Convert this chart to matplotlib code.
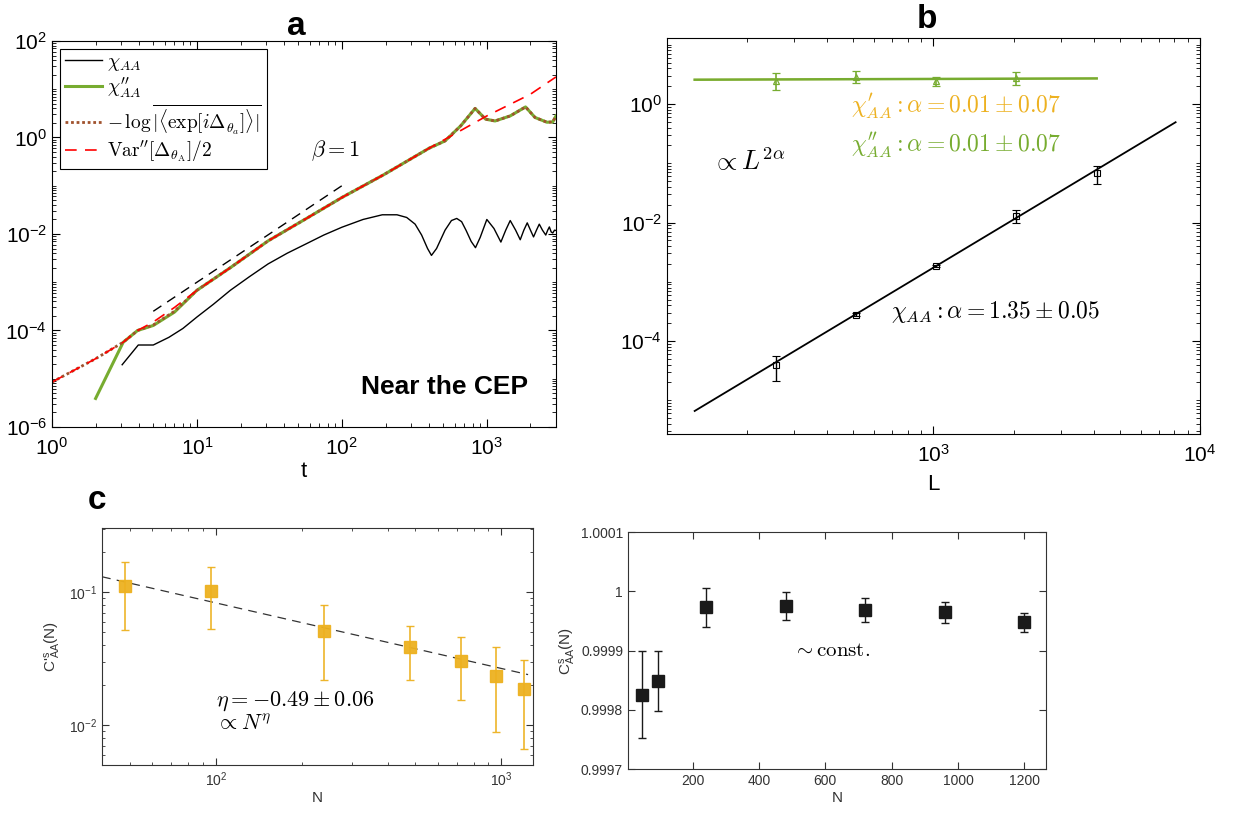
import numpy as np
import matplotlib
matplotlib.use("Agg")
import matplotlib.pyplot as plt
from matplotlib.ticker import LogLocator, NullFormatter, FixedLocator

plt.rcParams["font.family"] = ["Liberation Sans", "DejaVu Sans"]
plt.rcParams["mathtext.fontset"] = "custom"
plt.rcParams["mathtext.rm"] = "Liberation Sans"
plt.rcParams["mathtext.it"] = "Liberation Sans:italic"
plt.rcParams["mathtext.bf"] = "Liberation Sans:bold"
plt.rcParams["mathtext.sf"] = "Liberation Sans"
plt.rcParams["xtick.direction"] = "in"
plt.rcParams["ytick.direction"] = "in"

# ---------------- panel a: time series ----------------
t_var = [1, 2, 3.1, 3.9, 5, 7, 10, 17, 31, 57, 100, 195, 400, 1000, 2000, 3000]
var_half = [8.5e-6, 2.6e-5, 5.7e-5, 1.0e-4, 1.5e-4, 3.0e-4, 6.8e-4, 2.0e-3, 7.2e-3, 0.021,
            0.057, 0.17, 0.6, 2.8, 7.9, 18]

t_chi2 = [2, 3.1, 3.9, 5, 7, 10, 17, 31, 57, 100, 195, 400, 515, 660, 830, 980, 1140,
          1450, 1850, 2150, 2600, 2850, 3000]
chi2 = [3.9e-6, 5.7e-5, 1.0e-4, 1.27e-4, 2.4e-4, 6.8e-4, 2.0e-3, 7.2e-3, 0.021, 0.057,
        0.17, 0.6, 0.85, 1.74, 4.0, 2.4, 2.2, 2.8, 4.3, 2.6, 2.07, 2.1, 2.8]

t_log = [1, 2, 3.1, 3.9, 5, 7, 10, 17, 31, 57, 100, 195, 400, 515, 660, 830, 980, 1140,
         1450, 1850, 2150, 2600, 2850, 3000]
neg_log = [8.5e-6, 2.6e-5, 5.7e-5, 1.0e-4, 1.3e-4, 2.5e-4, 6.8e-4, 2.0e-3, 7.2e-3, 0.021,
           0.057, 0.17, 0.6, 0.85, 1.74, 4.0, 2.4, 2.2, 2.8, 4.3, 2.6, 2.07, 2.1, 2.8]

t_chi = [3.05, 3.94, 5.0, 6.4, 8, 10, 13, 17, 23, 31, 42, 57, 75, 100, 140, 190, 240, 280,
         320, 355, 390, 415, 450, 515, 570, 620, 670, 720, 780, 835, 900, 1000, 1120, 1250,
         1350, 1450, 1580, 1700, 1800, 1900, 2000, 2100, 2200, 2300, 2420, 2550, 2630, 2700,
         2780, 2850, 2930, 3000]
chi = [1.95e-5, 5e-5, 5e-5, 7.2e-5, 1.1e-4, 1.9e-4, 3.5e-4, 6.8e-4, 1.3e-3, 2.4e-3, 4.0e-3,
       6.3e-3, 9.5e-3, 0.0138, 0.02, 0.025, 0.025, 0.022, 0.016, 0.0095, 5e-3, 3.6e-3, 5e-3,
       0.012, 0.019, 0.021, 0.018, 0.0118, 7e-3, 5.2e-3, 8.5e-3, 0.020, 0.013, 6.8e-3, 0.012,
       0.019, 0.012, 7.6e-3, 0.012, 0.017, 0.012, 8.7e-3, 0.012, 0.016, 0.012, 9.5e-3, 0.012,
       0.014, 0.011, 0.0105, 0.012, 0.0118]

t_guide = [5, 100]
guide = [2.5e-4, 0.1]

# ---------------- panel b: scaling with L ----------------
L = [256, 512, 1024, 2048, 4096]
chi_L = [3.9e-5, 2.8e-4, 1.85e-3, 0.013, 0.0686]
chi_L_lo = [2.1e-5, 2.6e-4, 1.75e-3, 0.0098, 0.044]
chi_L_hi = [5.6e-5, 3.0e-4, 1.95e-3, 0.0162, 0.091]
L_fit = [127, 8100]
alpha_chi = 1.35

L2 = [256, 512, 1024, 2048]
chi2_L = [2.47, 2.88, 2.47, 2.74]
chi2_L_lo = [1.74, 2.3, 2.05, 2.1]
chi2_L_hi = [3.3, 3.6, 2.88, 3.4]
L2_fit = [127, 4096]
chi2_fit = [2.57, 2.7]

# ---------------- panel c / d: correlators vs N ----------------
N = [48, 96, 240, 480, 720, 960, 1200]
Cp = [0.111, 0.103, 0.0507, 0.039, 0.0305, 0.0236, 0.0188]
Cp_lo = [0.052, 0.053, 0.022, 0.022, 0.0155, 0.0089, 0.0066]
Cp_hi = [0.17, 0.154, 0.080, 0.056, 0.046, 0.039, 0.031]
N_fit = [40, 1240]
Cp_fit = [0.131, 0.024]

C = [0.999825, 0.999848, 0.999973, 0.999975, 0.999968, 0.999965, 0.999948]
C_lo = [0.999752, 0.999798, 0.999939, 0.999951, 0.999949, 0.999947, 0.999932]
C_hi = [0.9999, 0.9999, 1.0000062, 0.999998, 0.999989, 0.999982, 0.999964]

GREEN = "#77AC30"
ORANGE = "#EDB120"
BROWN = "#A0522D"
GREY = "#333333"

fig = plt.figure(figsize=(12.43, 8.15), dpi=100)
ax_a = fig.add_axes([0.0418, 0.4761, 0.4055, 0.4736])
ax_b = fig.add_axes([0.5366, 0.4675, 0.4288, 0.4859])
ax_c = fig.add_axes([0.0821, 0.0613, 0.3467, 0.2908])
ax_d = fig.add_axes([0.5052, 0.0564, 0.3363, 0.2908])


def log_minor(ax, axis):
    loc = LogLocator(base=10, subs=np.arange(2, 10), numticks=50)
    if axis == "x":
        ax.xaxis.set_minor_locator(loc)
        ax.xaxis.set_minor_formatter(NullFormatter())
    else:
        ax.yaxis.set_minor_locator(loc)
        ax.yaxis.set_minor_formatter(NullFormatter())


# panel a
ax = ax_a
ax.plot(t_chi, chi, color="black", lw=1.0, label=r"$\chi_{AA}$")
ax.plot(t_chi2, chi2, color=GREEN, lw=2.2, label=r"$\chi^{\prime\prime}_{AA}$")
ax.plot(t_log, neg_log, color=BROWN, lw=2.0, ls=(0, (1, 1)),
        label=r"$-\,\log\overline{|\langle\exp[i\Delta_{\theta_a}]\rangle|}$")
ax.plot(t_var, var_half, color="red", lw=1.2, ls=(0, (7, 5)),
        label=r"$\mathrm{Var}''[\Delta_{\theta_{\mathrm{A}}}]/2$")
ax.plot(t_guide, guide, color="black", lw=1.0, ls=(0, (7, 5)))
ax.set_xscale("log")
ax.set_yscale("log")
ax.set_xlim(1, 3000)
ax.set_ylim(1e-6, 1e2)
ax.yaxis.set_major_locator(FixedLocator([1e-6, 1e-4, 1e-2, 1e0, 1e2]))
ax.xaxis.set_major_locator(FixedLocator([1, 10, 100, 1000]))
log_minor(ax, "x")
ax.yaxis.set_minor_locator(LogLocator(base=10, subs=np.arange(1, 10), numticks=50))
ax.yaxis.set_minor_formatter(NullFormatter())
ax.tick_params(which="both", top=True, right=True, labelsize=15)
ax.tick_params(which="major", length=6)
ax.tick_params(which="minor", length=3)
ax.tick_params(axis="x", which="major", pad=7)
ax.set_xlabel("t", fontsize=16, labelpad=2)
leg = ax.legend(loc="upper left", fontsize=14, frameon=True, fancybox=False,
                edgecolor="black", framealpha=1, handlelength=1.9, borderpad=0.25,
                labelspacing=0.1, handletextpad=0.3, borderaxespad=0.4)
leg.get_frame().set_linewidth(0.8)
for txt in leg.get_texts():
    txt.set_math_fontfamily("cm")
ax.text(61, 0.53, r"$\beta=1$", fontsize=16, math_fontfamily="cm", va="center")
ax.text(0.945, 0.103, "Near the CEP", transform=ax.transAxes, fontsize=19,
        fontweight="bold", ha="right", va="center")
fig.text(0.238, 0.967, "a", fontsize=24, fontweight="bold", ha="center", va="center")

# panel b
ax = ax_b
L_line = np.array(L_fit, dtype=float)
ax.plot(L_line, chi_L[2] * (L_line / L[2]) ** (2 * alpha_chi), color="black", lw=1.3)
ax.errorbar(L, chi_L, yerr=[np.subtract(chi_L, chi_L_lo), np.subtract(chi_L_hi, chi_L)],
            fmt="s", ms=5, mfc="none", mec="black", color="black", ecolor="black",
            elinewidth=1.0, capsize=3, mew=0.8)
ax.plot(L2_fit, chi2_fit, color=ORANGE, lw=1.2, alpha=0.6)
ax.plot(L2_fit, chi2_fit, color=GREEN, lw=1.8)
ax.errorbar(L2, chi2_L, yerr=[np.subtract(chi2_L, chi2_L_lo), np.subtract(chi2_L_hi, chi2_L)],
            fmt="^", ms=5, mfc="none", mec=GREEN, color=GREEN, ecolor=GREEN,
            elinewidth=1.2, capsize=3, mew=0.9)
ax.set_xscale("log")
ax.set_yscale("log")
ax.set_xlim(100, 1e4)
ax.set_ylim(2.7e-6, 13)
ax.xaxis.set_major_locator(FixedLocator([1000, 10000]))
log_minor(ax, "x")
ax.yaxis.set_major_locator(FixedLocator([1e-4, 1e-2, 1e0]))
ax.yaxis.set_minor_locator(LogLocator(base=10, subs=np.arange(1, 10), numticks=50))
ax.yaxis.set_minor_formatter(NullFormatter())
ax.tick_params(which="both", top=True, right=True, labelsize=15)
ax.tick_params(which="major", length=6)
ax.tick_params(which="minor", length=3)
ax.tick_params(axis="x", which="major", pad=7)
ax.set_xlabel("L", fontsize=16, labelpad=6)
ax.text(492, 0.9, r"$\chi^{\prime}_{AA}:\alpha=0.01\pm0.07$", color=ORANGE, fontsize=17,
        math_fontfamily="cm", va="center")
ax.text(492, 0.2, r"$\chi^{\prime\prime}_{AA}:\alpha=0.01\pm0.07$", color=GREEN, fontsize=17,
        math_fontfamily="cm", va="center")
ax.text(148, 0.107, r"$\propto L^{2\alpha}$", fontsize=19, math_fontfamily="cm", va="center")
ax.text(690, 3.1e-4, r"$\chi_{AA}:\alpha=1.35\pm0.05$", fontsize=17,
        math_fontfamily="cm", va="center")
fig.text(0.746, 0.976, "b", fontsize=24, fontweight="bold", ha="center", va="center")

# panel c
ax = ax_c
ax.plot(N_fit, Cp_fit, color="black", lw=0.9, ls=(0, (7, 5)), alpha=0.8)
ax.errorbar(N, Cp, yerr=[np.subtract(Cp, Cp_lo), np.subtract(Cp_hi, Cp)], fmt="s", ms=8,
            color=ORANGE, ecolor=ORANGE, elinewidth=1.2, capsize=3, alpha=0.95)
ax.set_xscale("log")
ax.set_yscale("log")
ax.set_xlim(40, 1290)
ax.set_ylim(0.005, 0.305)
ax.xaxis.set_major_locator(FixedLocator([100, 1000]))
log_minor(ax, "x")
ax.yaxis.set_major_locator(FixedLocator([0.01, 0.1]))
log_minor(ax, "y")
ax.tick_params(which="both", top=True, right=True, labelsize=10, colors=GREY)
ax.tick_params(which="major", length=5)
ax.tick_params(which="minor", length=2.5)
for s in ax.spines.values():
    s.set_color(GREY)
ax.set_xlabel("N", fontsize=11, color=GREY, labelpad=2)
ax.set_ylabel(r"C$'^{\mathrm{s}}_{\mathrm{AA}}$(N)", fontsize=11, color=GREY, labelpad=4)
ax.text(100, 0.0152, r"$\eta=-0.49\pm0.06$", fontsize=16, math_fontfamily="cm", va="center")
ax.text(100, 0.0101, r"$\propto N^{\eta}$", fontsize=16, math_fontfamily="cm", va="center")
fig.text(0.078, 0.386, "c", fontsize=24, fontweight="bold", ha="center", va="center")

# panel d
ax = ax_d
ax.errorbar(N, C, yerr=[np.subtract(C, C_lo), np.subtract(C_hi, C)], fmt="s", ms=8,
            color="#1a1a1a", ecolor="#1a1a1a", elinewidth=1.0, capsize=3)
ax.set_xlim(5, 1265)
ax.set_ylim(0.9997, 1.0001)
ax.set_xticks([200, 400, 600, 800, 1000, 1200])
ax.set_yticks([0.9997, 0.9998, 0.9999, 1.0, 1.0001])
ax.set_yticklabels(["0.9997", "0.9998", "0.9999", "1", "1.0001"])
ax.tick_params(which="both", top=True, right=True, labelsize=10, colors=GREY, length=5)
for s in ax.spines.values():
    s.set_color(GREY)
ax.set_xlabel("N", fontsize=11, color=GREY, labelpad=2)
ax.set_ylabel(r"C$^{\mathrm{s}}_{\mathrm{AA}}$(N)", fontsize=11, color=GREY, labelpad=2)
ax.text(503, 0.9999, r"$\sim\mathrm{const.}$", fontsize=15, math_fontfamily="cm",
        va="center")

fig.savefig("out.png", dpi=100)
